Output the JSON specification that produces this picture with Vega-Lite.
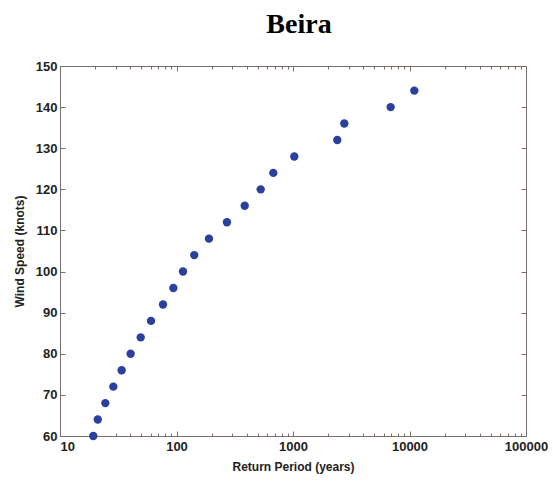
{
  "$schema": "https://vega.github.io/schema/vega-lite/v6.json",
  "autosize": "none",
  "width": 466,
  "height": 370,
  "padding": {"left": 60, "top": 66, "right": 27, "bottom": 46},
  "background": "white",
  "title": {"text": "Beira", "font": "Liberation Serif", "fontSize": 28, "fontWeight": "bold", "color": "black", "anchor": "middle", "offset": 21, "dx": 6},
  "data": {"values": [
    {"period": 19.3, "speed": 60}, {"period": 21.1, "speed": 64}, {"period": 24.5, "speed": 68},
    {"period": 28.7, "speed": 72}, {"period": 33.8, "speed": 76}, {"period": 40.4, "speed": 80},
    {"period": 49.3, "speed": 84}, {"period": 60.4, "speed": 88}, {"period": 76.6, "speed": 92},
    {"period": 94, "speed": 96}, {"period": 113.7, "speed": 100}, {"period": 142, "speed": 104},
    {"period": 190, "speed": 108}, {"period": 271, "speed": 112}, {"period": 385, "speed": 116},
    {"period": 528, "speed": 120}, {"period": 678, "speed": 124}, {"period": 1026, "speed": 128},
    {"period": 2399, "speed": 132}, {"period": 2757, "speed": 136}, {"period": 6890, "speed": 140},
    {"period": 11000, "speed": 144}
  ]},
  "config": {
    "view": {"stroke": null},
    "axis": {"domainColor": "#7a6e6a", "tickColor": "#7a6e6a", "grid": false, "labelFont": "Liberation Sans", "labelFontWeight": "bold", "labelFontSize": 13, "labelColor": "#222", "titleFont": "Liberation Sans", "titleFontWeight": "bold", "titleFontSize": 12, "titleColor": "#222"}
  },
  "resolve": {"axis": {"x": "independent", "y": "independent"}},
  "layer": [
    {
      "mark": {"type": "point", "filled": true, "size": 70, "color": "#2b3f9e", "opacity": 1},
      "encoding": {
        "x": {"field": "period", "type": "quantitative", "scale": {"type": "log", "domain": [10, 100000]},
          "axis": {"orient": "bottom", "title": "Return Period (years)", "titlePadding": 8,
            "values": [10,20,30,40,50,60,70,80,90,100,200,300,400,500,600,700,800,900,1000,2000,3000,4000,5000,6000,7000,8000,9000,10000,20000,30000,40000,50000,60000,70000,80000,90000,100000],
            "labelExpr": "abs(round(log(datum.value)/LN10) - log(datum.value)/LN10) < 0.000001 ? datum.label : ''",
            "format": "d", "labelPadding": 9, "labelFlush": false,
            "labelAlign": {"condition": {"test": "datum.value == 10", "value": "left"}, "value": "center"},
            "tickSize": {"condition": {"test": "abs(round(log(datum.value)/LN10) - log(datum.value)/LN10) < 0.000001", "value": -5}, "value": -3}}},
        "y": {"field": "speed", "type": "quantitative", "scale": {"domain": [60, 150], "nice": false, "zero": false},
          "axis": {"orient": "left", "title": "Wind Speed (knots)", "values": [60,70,80,90,100,110,120,130,140,150], "tickSize": -5, "labelPadding": 8, "titlePadding": 9}}
      }
    },
    {
      "mark": {"type": "point", "opacity": 0},
      "encoding": {
        "x": {"field": "period", "type": "quantitative", "scale": {"type": "log", "domain": [10, 100000]},
          "axis": {"orient": "top", "title": null, "labels": false,
            "values": [10,20,30,40,50,60,70,80,90,100,200,300,400,500,600,700,800,900,1000,2000,3000,4000,5000,6000,7000,8000,9000,10000,20000,30000,40000,50000,60000,70000,80000,90000,100000],
            "tickSize": {"condition": {"test": "abs(round(log(datum.value)/LN10) - log(datum.value)/LN10) < 0.000001", "value": -5}, "value": -3}}},
        "y": {"field": "speed", "type": "quantitative", "scale": {"domain": [60, 150], "nice": false, "zero": false},
          "axis": {"orient": "right", "title": null, "labels": false, "values": [60,70,80,90,100,110,120,130,140,150], "tickSize": -5}}
      }
    }
  ]
}
